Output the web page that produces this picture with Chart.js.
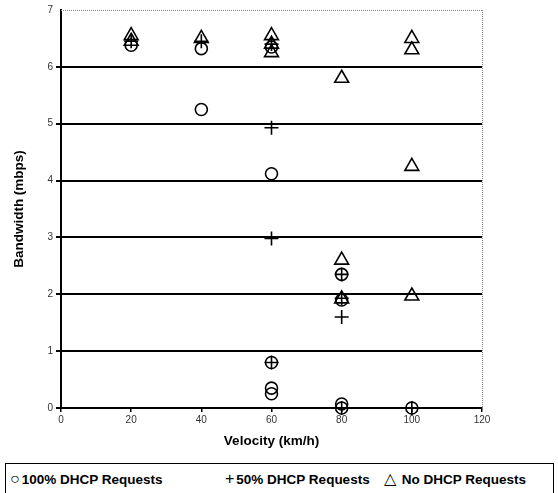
<!DOCTYPE html>
<html>
<head>
<meta charset="utf-8">
<script src="https://cdn.jsdelivr.net/npm/chart.js@4.4.0/dist/chart.umd.min.js"></script>
<style>
html,body{margin:0;padding:0;background:#fff;}
#wrap{position:relative;width:558px;height:493px;overflow:hidden;font-family:"Liberation Sans",Arial,sans-serif;}
#c{position:absolute;left:0;top:0;}
#legend{position:absolute;left:5px;top:463px;width:549px;height:40px;border:1px solid #000;box-sizing:border-box;font-weight:bold;font-size:13.5px;color:#000;}
#legend span{position:absolute;top:8px;white-space:nowrap;}
#legend b{font-weight:normal;font-size:16px;line-height:13px;margin-right:2px;}
</style>
</head>
<body>
<div id="wrap">
<canvas id="c" width="558" height="458"></canvas>
<div id="legend">
<span style="left:4px"><b>○</b>100% DHCP Requests</span>
<span style="left:219px"><b>+</b>50% DHCP Requests</span>
<span style="left:378px"><b>△</b> No DHCP Requests</span>
</div>
</div>
<script>
const xTicks = [0,20,40,60,80,100,120];
const yTicks = [0,1,2,3,4,5,6,7];
const seriesNames = ["100% DHCP Requests","50% DHCP Requests","No DHCP Requests"];
const circleX = [20,40,40,60,60,60,60,60,80,80,80,80,100];
const circleY = [6.38,6.32,5.25,6.35,4.12,0.8,0.35,0.25,2.35,1.9,0.07,0,0];
const plusX = [20,40,60,60,60,60,80,80,80,80,100];
const plusY = [6.45,6.45,6.4,4.93,2.98,0.8,2.35,1.93,1.6,0,0];
const triX = [20,20,40,60,60,60,80,80,80,100,100,100,100];
const triY = [6.55,6.45,6.5,6.55,6.4,6.25,5.8,2.6,1.92,6.5,6.3,4.25,1.97];

const pts = (xs, ys) => xs.map((x,i)=>({x:x,y:ys[i]}));

const borderPlugin = {
  id:'borders',
  afterDatasetsDraw(chart){
    const a = chart.chartArea, ctx = chart.ctx;
    ctx.save();
    ctx.strokeStyle = '#888';
    ctx.lineWidth = 1;
    ctx.setLineDash([1,1]);
    ctx.beginPath();
    ctx.moveTo(a.left, a.top+0.5); ctx.lineTo(a.right, a.top+0.5);
    ctx.moveTo(a.right+0.5, a.top); ctx.lineTo(a.right+0.5, a.bottom);
    ctx.stroke();
    ctx.restore();
  }
};

const font = {family:'"Liberation Sans", Arial, sans-serif'};
new Chart(document.getElementById('c'), {
  type:'scatter',
  data:{datasets:[
    {label:seriesNames[0], data:pts(circleX,circleY), pointStyle:'circle', pointRadius:6, pointBorderColor:'#000', pointBackgroundColor:'rgba(0,0,0,0)', pointBorderWidth:1.6},
    {label:seriesNames[1], data:pts(plusX,plusY), pointStyle:'cross', pointRadius:7, pointBorderColor:'#000', pointBackgroundColor:'rgba(0,0,0,0)', pointBorderWidth:1.6},
    {label:seriesNames[2], data:pts(triX,triY), pointStyle:'triangle', pointRadius:8, pointBorderColor:'#000', pointBackgroundColor:'rgba(0,0,0,0)', pointBorderWidth:1.6}
  ]},
  options:{
    responsive:false, animation:false,
    layout:{padding:{left:0,right:76,top:10,bottom:0}},
    plugins:{legend:{display:false}, tooltip:{enabled:false}},
    elements:{point:{hoverRadius:6}},
    datasets:{scatter:{clip:false}},
    scales:{
      x:{type:'linear', min:0, max:120,
        afterBuildTicks(s){ s.ticks = xTicks.map(v=>({value:v})); },
        afterFit(s){ s.height = 50; },
        border:{display:true,color:'#000',width:2},
        grid:{drawOnChartArea:false, drawTicks:true, tickLength:4, color:'#000', lineWidth:1.5},
        ticks:{color:'#333', font:{...font,size:10}, padding:2},
        title:{display:true, text:'Velocity (km/h)', color:'#000', font:{...font,size:13.5,weight:'bold'}, padding:{top:1,bottom:9}}
      },
      y:{type:'linear', min:0, max:7,
        afterBuildTicks(s){ s.ticks = yTicks.map(v=>({value:v})); },
        afterFit(s){ s.width = 61; },
        border:{display:true,color:'#000',width:2},
        grid:{drawOnChartArea:true, drawTicks:true, tickLength:5, color:(c)=> c.tick && c.tick.value===7 ? 'rgba(0,0,0,0)' : '#000', lineWidth:2},
        ticks:{color:'#333', font:{...font,size:10}, padding:3},
        title:{display:true, text:'Bandwidth (mbps)', color:'#000', font:{...font,size:13.5,weight:'bold'}, padding:{top:11,bottom:2}}
      }
    }
  },
  plugins:[borderPlugin]
});
</script>
</body>
</html>
